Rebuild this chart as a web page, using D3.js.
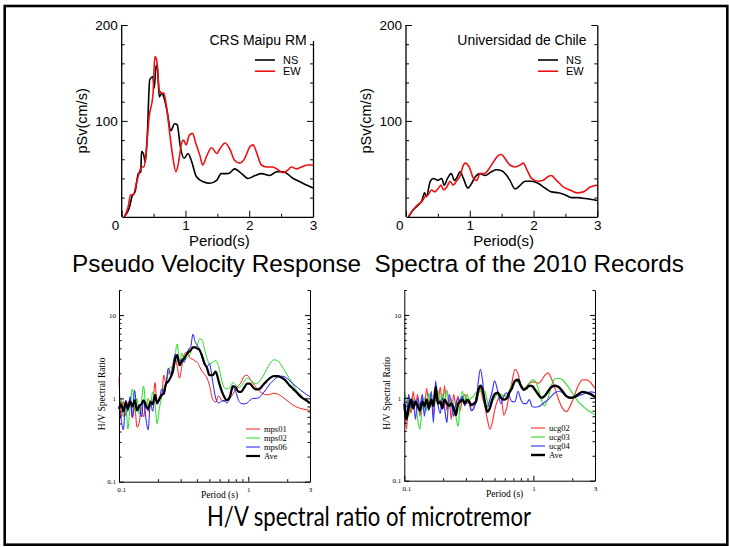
<!DOCTYPE html>
<html>
<head>
<meta charset="utf-8">
<script src="https://cdn.jsdelivr.net/npm/d3@7"></script>
<style>
  body { margin: 0; background: #fff; }
  svg { display: block; }
</style>
</head>
<body>
<svg id="fig" width="729" height="547"></svg>
<script>
// ---------- Pseudo velocity response spectra (2010 records) ----------
const spectrumPeriodTicks = [0, 1, 2, 3];
const spectrumPsvTicks = [100, 200];
const spectrumSeries = ["NS", "EW"];

const maipuNsPeriod = [0.04,0.13,0.16,0.21,0.26,0.30,0.31,0.34,0.37,0.40,0.44,0.49,0.51,0.54,0.56,0.59,0.63,0.66,0.71,0.77,0.83,0.87,0.92,0.98,1.04,1.10,1.17,1.28,1.38,1.49,1.56,1.64,1.70,1.77,1.88,1.98,2.09,2.19,2.32,2.43,2.53,2.69,2.84,3.00];
const maipuNsPsv    = [0,12,21,26,45,47,68,66,57,83,143,146,134,158,155,125,129,125,111,90,97,96,73,61,66,57,42,36.5,35,38,45,45,46,50,45,40,43,45,43,47,47,40,35,30];
const maipuEwPeriod = [0.04,0.10,0.14,0.18,0.23,0.28,0.31,0.35,0.39,0.43,0.49,0.52,0.55,0.59,0.63,0.66,0.71,0.76,0.80,0.85,0.89,0.94,0.97,1.01,1.06,1.11,1.16,1.23,1.27,1.33,1.41,1.49,1.54,1.62,1.70,1.77,1.85,1.93,2.01,2.06,2.11,2.19,2.27,2.37,2.45,2.53,2.61,2.66,2.74,2.82,2.92,3.00];
const maipuEwPsv    = [0,10,23,23,35,47,52,52,73,104,127,167,163,132,129,129,111,83,63,47,56,77,80,75,85,87,77,63,54,63,72,66,71,77,70,59,56,61,73,75,68,54,52,52,49,46,49,52,50,52,54,54];

const uchileNsPeriod = [0.04,0.11,0.19,0.25,0.29,0.32,0.38,0.43,0.50,0.56,0.60,0.65,0.71,0.76,0.79,0.85,0.90,0.97,1.03,1.09,1.16,1.24,1.34,1.42,1.50,1.58,1.63,1.71,1.76,1.87,1.97,2.07,2.18,2.28,2.39,2.49,2.60,2.70,2.81,3.00];
const uchileNsPsv    = [0,7,12,17,25,21,37,40,38,40,33,40,45,38,40,47,40,30,35,42,45,43,47,49,48,43,38,29,31,37,37,35,30,26,25,23,20,20,19,17];
const uchileEwPeriod = [0.04,0.11,0.19,0.25,0.30,0.35,0.40,0.45,0.51,0.55,0.59,0.64,0.69,0.74,0.79,0.85,0.90,0.93,0.99,1.06,1.11,1.16,1.23,1.29,1.37,1.45,1.50,1.55,1.63,1.71,1.79,1.84,1.89,1.97,2.07,2.15,2.23,2.28,2.36,2.47,2.57,2.68,2.78,2.89,3.00];
const uchileEwPsv    = [0,7,13,16,21,23,28,26,30,33,28,31,37,33,37,43,54,56,52,40,38,45,45,49,57,64,65,61,54,52,54,56,50,40,37,38,42,43,38,31,28,25,26,31,33];

// ---------- H/V spectral ratio of microtremor ----------
const hvPeriodTicks = [0.1, 1, 3];
const hvRatioTicks = [0.1, 1, 10];
const hvPeriods = [0.100,0.104,0.108,0.113,0.117,0.122,0.127,0.132,0.138,0.143,0.149,0.155,0.162,0.168,0.175,0.182,0.190,0.197,0.205,0.214,0.222,0.231,0.241,0.251,0.261,0.271,0.282,0.294,0.306,0.318,0.331,0.345,0.359,0.373,0.388,0.404,0.42,0.44,0.46,0.48,0.50,0.53,0.56,0.59,0.62,0.65,0.68,0.72,0.76,0.80,0.84,0.88,0.93,0.98,1.03,1.09,1.15,1.22,1.30,1.38,1.47,1.57,1.68,1.80,1.93,2.07,2.22,2.40,2.60,2.80,3.00];

const mps01 = [1.75,0.6,0.92,0.62,0.85,0.95,0.58,0.82,0.45,0.5,0.78,0.6,0.9,0.7,0.95,0.85,1.55,0.85,1.05,
  1.1,1.9,1.5,2.1,1.9,2.6,3.1,2.4,1.75,2.4,3.3,3.6,
  3.3,3.0,2.95,2.8,2.7,2.4,2.1,1.95,1.75,1.45,
  0.98,0.9,1.08,0.95,0.92,0.95,1.0,1.12,1.3,1.42,
  1.55,1.85,1.9,1.72,1.5,1.35,1.22,1.14,1.1,1.12,
  1.15,1.13,1.06,0.98,0.9,0.83,0.78,0.75,0.73,0.72];
const mps02 = [0.75,1.0,0.6,0.9,0.43,0.8,1.3,0.7,1.0,0.65,0.9,1.4,0.75,1.0,0.8,1.2,0.85,0.5,0.75,
  1.05,1.3,1.6,2.0,2.4,2.2,3.2,4.5,2.6,3.5,2.9,3.0,
  3.2,3.6,4.2,4.0,4.4,5.2,5.0,3.8,3.0,2.6,
  2.7,2.85,2.4,1.7,1.35,1.3,1.35,1.55,1.45,1.35,
  1.4,1.6,1.75,1.7,1.55,1.5,1.6,1.85,2.2,2.6,
  2.9,2.85,2.5,2.1,1.75,1.45,1.2,1.05,0.95,0.87];
const mps06 = [0.8,0.55,0.42,0.95,0.7,1.05,0.6,1.25,0.7,0.85,0.6,0.95,0.55,0.42,0.9,0.7,1.1,0.85,0.95,
  1.3,1.1,1.5,2.3,2.0,2.3,3.4,3.0,2.6,3.0,2.7,3.3,
  3.9,4.2,5.9,4.8,4.3,3.9,3.0,2.5,2.4,2.6,
  1.6,1.0,0.88,0.92,0.95,0.88,1.0,1.35,1.2,0.95,
  0.87,0.86,0.88,0.95,1.0,1.0,1.03,1.15,1.3,1.5,
  1.65,1.8,1.85,1.8,1.65,1.5,1.35,1.22,1.12,1.05];
const mpsAve = [0.75,0.85,0.7,0.9,0.75,0.92,0.8,0.95,0.72,0.8,0.85,0.95,0.8,0.75,0.9,0.85,1.1,0.88,0.98,
  1.1,1.15,1.5,1.6,1.8,2.1,2.9,3.3,2.5,2.8,3.0,3.3,
  3.6,3.8,4.1,4.1,3.95,3.8,3.2,2.6,2.3,1.9,
  1.9,2.1,1.6,1.25,1.05,0.95,1.05,1.4,1.35,1.2,
  1.2,1.35,1.5,1.5,1.35,1.28,1.3,1.45,1.6,1.75,
  1.85,1.85,1.78,1.65,1.45,1.3,1.15,1.02,0.95,0.88];

const ucg02 = [1.0,0.42,0.95,0.65,1.2,0.8,1.1,0.6,1.0,0.75,1.3,0.85,1.0,0.6,1.2,0.9,1.35,0.75,1.4,0.7,1.0,0.55,1.1,0.8,1.05,0.7,1.0,1.1,0.85,0.95,0.7,
  0.75,1.0,1.2,1.3,1.0,0.8,0.55,0.42,0.5,0.7,
  0.95,1.05,0.62,0.75,1.1,1.5,2.2,1.95,1.4,1.25,
  1.35,1.5,1.55,1.55,1.5,1.6,1.85,2.0,1.7,1.3,
  0.95,0.75,0.68,0.8,1.05,1.4,1.65,1.65,1.5,1.3];
const ucg03 = [1.15,0.9,0.6,1.0,0.8,0.95,0.55,0.42,0.8,1.0,0.7,1.15,0.8,0.95,0.9,1.2,0.85,1.1,0.9,1.25,0.75,0.95,0.8,0.6,0.45,0.9,1.2,0.9,1.1,0.95,1.0,
  1.05,1.15,1.15,1.2,1.25,1.2,0.9,0.75,0.9,1.0,
  1.1,1.1,1.05,1.05,1.2,1.4,1.6,1.55,1.4,1.3,
  1.35,1.5,1.65,1.6,1.3,0.95,0.8,1.0,1.4,1.7,
  1.72,1.65,1.45,1.25,1.05,0.9,0.8,0.72,0.67,0.63];
const ucg04 = [0.9,0.6,1.1,0.75,0.95,0.55,1.0,0.8,1.1,0.6,0.95,0.7,1.2,0.5,1.6,0.85,0.65,1.0,0.75,0.5,1.1,0.9,0.6,0.85,1.0,0.9,1.05,0.8,0.95,0.85,0.7,
  0.75,0.9,1.5,2.2,1.6,0.85,0.78,0.95,1.2,1.6,
  1.2,0.85,1.05,1.15,1.05,0.9,0.9,1.2,0.95,0.85,
  0.85,0.95,0.78,0.77,0.78,0.82,0.88,0.95,1.05,1.15,
  1.2,1.15,1.05,1.0,1.02,1.05,1.1,1.15,1.18,1.15];
const ucgAve = [0.85,0.55,0.75,0.95,0.75,0.9,0.8,0.7,0.9,0.8,0.95,0.75,0.95,0.8,1.35,0.85,0.9,0.75,0.95,0.85,0.8,0.85,0.75,0.62,0.85,0.9,0.95,0.85,0.95,0.9,0.82,
  0.85,0.9,1.2,1.4,1.25,0.9,0.68,0.75,0.95,1.1,
  1.15,1.0,0.95,0.98,1.15,1.3,1.6,1.65,1.4,1.25,
  1.3,1.4,1.38,1.25,1.1,1.0,1.05,1.2,1.35,1.4,
  1.35,1.2,1.05,1.0,1.02,1.1,1.18,1.15,1.1,1.02];

// ---------- drawing ----------
const svg = d3.select("#fig");
const SANS = "'Liberation Sans', Arial, Helvetica, sans-serif";
const SERIF = "'Liberation Serif', 'Times New Roman', serif";

svg.append("rect")
  .attr("x", 4.7).attr("y", 6).attr("width", 722.6).attr("height", 538.7)
  .attr("fill", "none").attr("stroke", "#000").attr("stroke-width", 2.6);

function styleAxis(sel, font, size) {
  sel.attr("font-family", font).attr("font-size", size);
  sel.selectAll("path.domain").attr("stroke", "#000").attr("stroke-width", 1.3);
  sel.selectAll(".tick line").attr("stroke", "#000").attr("stroke-width", 1);
  sel.selectAll(".tick text").attr("fill", "#000");
}

function spectrumPanel(p) {
  const x = d3.scaleLinear().domain([0, 3]).range([p.x0, p.x1]);
  const y = d3.scaleLinear().domain([0, 200]).range([p.y0, p.y1]);
  const g = svg.append("g");
  const minorY = d3.range(20, 200, 20).filter(v => v % 100 !== 0);
  const minorX = [0.5, 1.5, 2.5];
  const intFmt = d3.format("d");

  // curves
  const line = d3.line().x(d => x(d[0])).y(d => y(d[1])).curve(d3.curveMonotoneX);
  p.series.forEach(s => {
    g.append("path")
      .datum(d3.zip(s.period, s.psv))
      .attr("fill", "none").attr("stroke", s.color)
      .attr("stroke-width", 1.6).attr("stroke-linejoin", "round")
      .attr("d", line);
  });

  // left axis
  const left = g.append("g").attr("transform", `translate(${p.x0},0)`)
    .call(d3.axisLeft(y).tickValues(spectrumPsvTicks).tickSize(-6).tickSizeOuter(0).tickPadding(4).tickFormat(intFmt));
  left.append("g").call(d3.axisLeft(y).tickValues(minorY).tickSize(-3).tickFormat(""))
    .select(".domain").remove();
  styleAxis(left, SANS, 13.5);
  left.select(".domain").attr("d", `M0,${p.y0}V${p.y1}`);

  // right axis (ticks only, pointing inward)
  const right = g.append("g").attr("transform", `translate(${p.x1},0)`)
    .call(d3.axisRight(y).tickValues(spectrumPsvTicks).tickSize(-6).tickSizeOuter(0).tickFormat(""));
  right.append("g").call(d3.axisRight(y).tickValues(minorY).tickSize(-3).tickFormat(""))
    .select(".domain").remove();
  styleAxis(right, SANS, 13.5);

  // bottom axis
  const bottom = g.append("g").attr("transform", `translate(0,${p.y0})`)
    .call(d3.axisBottom(x).tickValues(spectrumPeriodTicks).tickSize(-6).tickSizeOuter(0).tickPadding(4).tickFormat(intFmt));
  bottom.append("g").call(d3.axisBottom(x).tickValues(minorX).tickSize(-3).tickFormat(""))
    .select(".domain").remove();
  styleAxis(bottom, SANS, 13.5);
  bottom.selectAll(".tick text").filter(d => d === 0)
    .attr("text-anchor", "end").attr("x", -3);

  // axis titles
  g.append("text")
    .attr("transform", `translate(${p.x0 - 35},${(p.y0 + p.y1) / 2}) rotate(-90)`)
    .attr("text-anchor", "middle").attr("font-family", SANS).attr("font-size", 14.5)
    .text("pSv(cm/s)");
  g.append("text")
    .attr("x", (p.x0 + p.x1) / 2 + 2).attr("y", p.y0 + 29)
    .attr("text-anchor", "middle").attr("font-family", SANS).attr("font-size", 15)
    .text("Period(s)");

  // station label and legend
  if (p.coverAxis) {
    g.append("rect").attr("x", p.x1 - 60).attr("y", p.y1 - 1)
      .attr("width", 64).attr("height", 17).attr("fill", "#fff");
  }
  g.append("text")
    .attr("x", p.x1 - p.labelInset).attr("y", p.y1 + 20)
    .attr("text-anchor", "end").attr("font-family", SANS).attr("font-size", 14)
    .text(p.station);
  p.series.forEach((s, i) => {
    const ly = p.y1 + 35 + i * 11.2;
    g.append("line")
      .attr("x1", p.legendX).attr("x2", p.legendX + 20)
      .attr("y1", ly).attr("y2", ly)
      .attr("stroke", s.color).attr("stroke-width", 1.6);
    g.append("text")
      .attr("x", p.legendX + 28).attr("y", ly + 4)
      .attr("font-family", SANS).attr("font-size", 11)
      .text(s.name);
  });
}

spectrumPanel({
  x0: 121.7, x1: 313, y0: 216.8, y1: 25,
  station: "CRS Maipu RM", labelInset: 6.3, legendX: 255, coverAxis: true,
  series: [
    { name: spectrumSeries[0], period: maipuNsPeriod, psv: maipuNsPsv, color: "#000" },
    { name: spectrumSeries[1], period: maipuEwPeriod, psv: maipuEwPsv, color: "#ee1111" }
  ]
});
spectrumPanel({
  x0: 406, x1: 597.3, y0: 216.8, y1: 25,
  station: "Universidad de Chile", labelInset: 10.8, legendX: 538, coverAxis: false,
  series: [
    { name: spectrumSeries[0], period: uchileNsPeriod, psv: uchileNsPsv, color: "#000" },
    { name: spectrumSeries[1], period: uchileEwPeriod, psv: uchileEwPsv, color: "#ee1111" }
  ]
});

function hvPanel(p) {
  const x = d3.scaleLog().domain([0.1, 3]).range([p.x0, p.x1]);
  const y = d3.scaleLog().domain([0.1, 20]).range([p.y0, p.y1]);
  const g = svg.append("g");
  const minorY = [2,3,4,5,6,7,8,9].flatMap(m => [m * 0.1, m, m * 10]).filter(v => v <= 20);
  const minorX = [0.2,0.3,0.4,0.5,0.6,0.7,0.8,0.9,2];
  const fmt = d => String(d);

  const line = d3.line().x(d => x(d[0])).y(d => y(d[1])).curve(d3.curveMonotoneX);
  p.series.forEach(s => {
    g.append("path")
      .datum(d3.zip(hvPeriods, s.ratio))
      .attr("fill", "none").attr("stroke", s.color)
      .attr("stroke-width", s.width).attr("stroke-linejoin", "round")
      .attr("d", line);
  });

  const left = g.append("g").attr("transform", `translate(${p.x0},0)`)
    .call(d3.axisLeft(y).tickValues(hvRatioTicks).tickSize(-5).tickSizeOuter(0).tickPadding(3).tickFormat(fmt));
  left.append("g").call(d3.axisLeft(y).tickValues(minorY).tickSize(-2.5).tickFormat(""))
    .select(".domain").remove();
  styleAxis(left, SERIF, 7);
  left.selectAll("path.domain").attr("stroke-width", 1);

  const right = g.append("g").attr("transform", `translate(${p.x1},0)`)
    .call(d3.axisRight(y).tickValues(hvRatioTicks).tickSize(-5).tickSizeOuter(0).tickFormat(""));
  right.append("g").call(d3.axisRight(y).tickValues(minorY).tickSize(-2.5).tickFormat(""))
    .select(".domain").remove();
  styleAxis(right, SERIF, 7);
  right.selectAll("path.domain").attr("stroke-width", 1);

  const bottom = g.append("g").attr("transform", `translate(0,${p.y0})`)
    .call(d3.axisBottom(x).tickValues(hvPeriodTicks).tickSize(-5).tickSizeOuter(0).tickPadding(5).tickFormat(fmt));
  bottom.append("g").call(d3.axisBottom(x).tickValues(minorX).tickSize(-2.5).tickFormat(""))
    .select(".domain").remove();
  styleAxis(bottom, SERIF, 7);
  bottom.selectAll("path.domain").attr("stroke-width", 1);
  bottom.selectAll(".tick text").filter(d => d === 0.1).attr("x", 2);

  g.append("text")
    .attr("transform", `translate(${p.x0 - 14},${(p.y0 + p.y1) / 2 + 8}) rotate(-90)`)
    .attr("text-anchor", "middle").attr("font-family", SERIF).attr("font-size", 9.5)
    .text("H/V Spectral Ratio");
  g.append("text")
    .attr("x", (p.x0 + p.x1) / 2 + 5).attr("y", p.y0 + 16)
    .attr("text-anchor", "middle").attr("font-family", SERIF).attr("font-size", 9.5)
    .text("Period (s)");

  p.series.forEach((s, i) => {
    const ly = p.legendY + i * 9;
    g.append("line")
      .attr("x1", p.legendX).attr("x2", p.legendX + 14)
      .attr("y1", ly).attr("y2", ly)
      .attr("stroke", s.color).attr("stroke-width", s.width);
    g.append("text")
      .attr("x", p.legendX + 18).attr("y", ly + 2.8)
      .attr("font-family", SERIF).attr("font-size", 8.5)
      .text(s.name);
  });
}

hvPanel({
  x0: 119, x1: 310, y0: 481.7, y1: 290, legendX: 246, legendY: 429,
  series: [
    { name: "mps01", ratio: mps01, color: "#ff1a1a", width: 1 },
    { name: "mps02", ratio: mps02, color: "#22dd22", width: 1 },
    { name: "mps06", ratio: mps06, color: "#1a1aff", width: 1 },
    { name: "Ave",   ratio: mpsAve, color: "#000", width: 2.2 }
  ]
});
hvPanel({
  x0: 404.3, x1: 595, y0: 480.7, y1: 290, legendX: 531, legendY: 428,
  series: [
    { name: "ucg02", ratio: ucg02, color: "#ff3c3c", width: 1.2 },
    { name: "ucg03", ratio: ucg03, color: "#3ce03c", width: 1.2 },
    { name: "ucg04", ratio: ucg04, color: "#3c3cff", width: 1.2 },
    { name: "Ave",   ratio: ucgAve, color: "#000", width: 2.4 }
  ]
});

// ---------- slide captions ----------
svg.append("text")
  .attr("x", 378).attr("y", 272)
  .attr("text-anchor", "middle").attr("font-family", SANS).attr("font-size", 24.3)
  .style("white-space", "pre")
  .text("Pseudo Velocity Response  Spectra of the 2010 Records");
svg.append("text")
  .attr("x", 207).attr("y", 526)
  .attr("font-family", "Lato, 'Open Sans', sans-serif").attr("font-size", 27)
  .attr("textLength", 324).attr("lengthAdjust", "spacingAndGlyphs")
  .text("H/V spectral ratio of microtremor");
</script>
</body>
</html>
